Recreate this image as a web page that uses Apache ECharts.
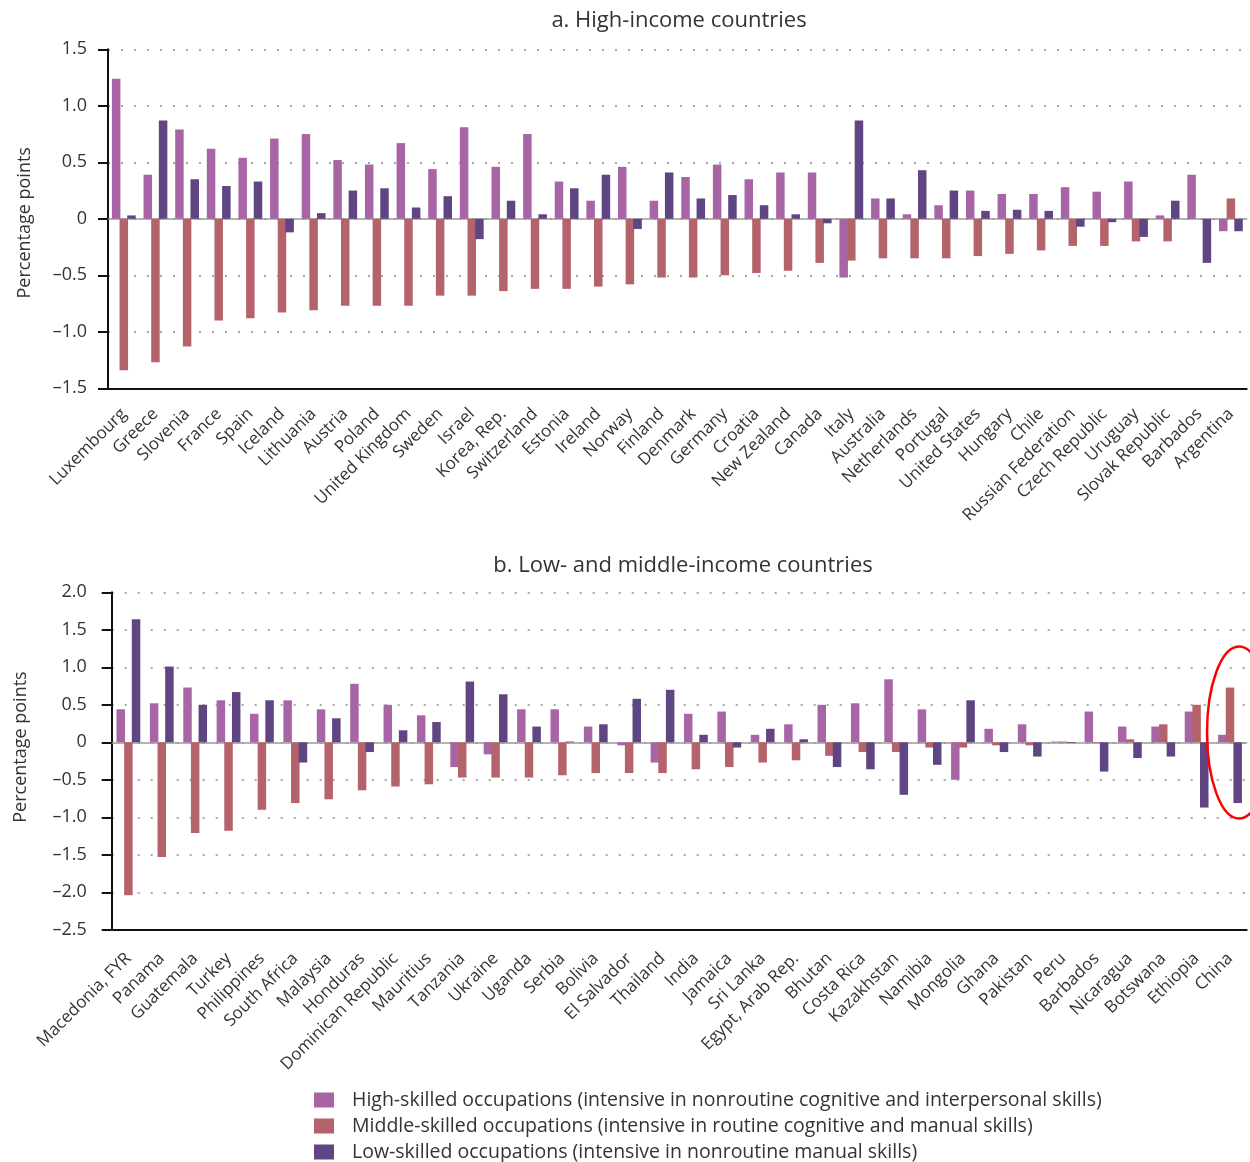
<!DOCTYPE html>
<html>
<head>
<meta charset="utf-8">
<script src="https://cdn.jsdelivr.net/npm/echarts@6/dist/echarts.min.js"></script>
<style>
  html, body { margin: 0; padding: 0; background: #fff; }
  #chart { width: 1250px; height: 1162px; }
</style>
</head>
<body>
<div id="chart"></div>
<script>
// Annual change in employment shares, percentage points

const highIncomeCountries = ["Luxembourg", "Greece", "Slovenia", "France", "Spain", "Iceland", "Lithuania", "Austria", "Poland", "United Kingdom", "Sweden", "Israel", "Korea, Rep.", "Switzerland", "Estonia", "Ireland", "Norway", "Finland", "Denmark", "Germany", "Croatia", "New Zealand", "Canada", "Italy", "Australia", "Netherlands", "Portugal", "United States", "Hungary", "Chile", "Russian Federation", "Czech Republic", "Uruguay", "Slovak Republic", "Barbados", "Argentina"];
const highIncomeHighSkilled = [1.24, 0.39, 0.79, 0.62, 0.54, 0.71, 0.75, 0.52, 0.48, 0.67, 0.44, 0.81, 0.46, 0.75, 0.33, 0.16, 0.46, 0.16, 0.37, 0.48, 0.35, 0.41, 0.41, -0.52, 0.18, 0.04, 0.12, 0.25, 0.22, 0.22, 0.28, 0.24, 0.33, 0.03, 0.39, -0.11];
const highIncomeMiddleSkilled = [-1.34, -1.27, -1.13, -0.90, -0.88, -0.83, -0.81, -0.77, -0.77, -0.77, -0.68, -0.68, -0.64, -0.62, -0.62, -0.60, -0.58, -0.52, -0.52, -0.50, -0.48, -0.46, -0.39, -0.37, -0.35, -0.35, -0.35, -0.33, -0.31, -0.28, -0.24, -0.24, -0.20, -0.20, 0, 0.18];
const highIncomeLowSkilled = [0.03, 0.87, 0.35, 0.29, 0.33, -0.12, 0.05, 0.25, 0.27, 0.10, 0.20, -0.18, 0.16, 0.04, 0.27, 0.39, -0.09, 0.41, 0.18, 0.21, 0.12, 0.04, -0.04, 0.87, 0.18, 0.43, 0.25, 0.07, 0.08, 0.07, -0.07, -0.03, -0.16, 0.16, -0.39, -0.11];

const lowMiddleCountries = ["Macedonia, FYR", "Panama", "Guatemala", "Turkey", "Philippines", "South Africa", "Malaysia", "Honduras", "Dominican Republic", "Mauritius", "Tanzania", "Ukraine", "Uganda", "Serbia", "Bolivia", "El Salvador", "Thailand", "India", "Jamaica", "Sri Lanka", "Egypt, Arab Rep.", "Bhutan", "Costa Rica", "Kazakhstan", "Namibia", "Mongolia", "Ghana", "Pakistan", "Peru", "Barbados", "Nicaragua", "Botswana", "Ethiopia", "China"];
const lowMiddleHighSkilled = [0.44, 0.52, 0.73, 0.56, 0.38, 0.56, 0.44, 0.78, 0.50, 0.36, -0.33, -0.16, 0.44, 0.44, 0.21, -0.04, -0.27, 0.38, 0.41, 0.10, 0.24, 0.50, 0.52, 0.84, 0.44, -0.50, 0.18, 0.24, 0.01, 0.41, 0.21, 0.21, 0.41, 0.10];
const lowMiddleMiddleSkilled = [-2.04, -1.53, -1.21, -1.18, -0.90, -0.81, -0.76, -0.64, -0.59, -0.56, -0.47, -0.47, -0.47, -0.44, -0.41, -0.41, -0.41, -0.36, -0.33, -0.27, -0.24, -0.18, -0.13, -0.13, -0.07, -0.07, -0.04, -0.04, 0.01, -0.01, 0.04, 0.24, 0.50, 0.73];
const lowMiddleLowSkilled = [1.64, 1.01, 0.50, 0.67, 0.56, -0.27, 0.32, -0.13, 0.16, 0.27, 0.81, 0.64, 0.21, 0.01, 0.24, 0.58, 0.70, 0.10, -0.07, 0.18, 0.04, -0.33, -0.36, -0.70, -0.30, 0.56, -0.13, -0.19, -0.01, -0.39, -0.21, -0.19, -0.87, -0.81];

const seriesNames = [
  "High-skilled occupations (intensive in nonroutine cognitive and interpersonal skills)",
  "Middle-skilled occupations (intensive in routine cognitive and manual skills)",
  "Low-skilled occupations (intensive in nonroutine manual skills)"
];
const seriesColors = ["#a865a6", "#b5636a", "#5f4581"];
const panelTitles = ["a. High-income countries", "b. Low- and middle-income countries"];
const yAxisTitle = "Percentage points";

const FONT = "'Open Sans', 'Noto Sans', sans-serif";
const INK = "#111";
const TEXT = "#333";

function tickFormatter(v) {
  if (Math.abs(v) < 1e-9) return "0";
  return (v < 0 ? "\u2013" : "") + Math.abs(v).toFixed(1);
}

function labelAxis(gridIndex, data, margin) {
  return {
    gridIndex, type: "category", data, position: "bottom",
    axisLine: { onZero: false, lineStyle: { color: INK, width: 2 } },
    axisTick: { length: 9, lineStyle: { color: INK, width: 2 } },
    axisLabel: { interval: 0, rotate: 45, margin, fontSize: 17, fontFamily: FONT, color: TEXT },
    splitLine: { show: false }
  };
}
function zeroAxis(gridIndex, data) {
  return {
    gridIndex, type: "category", data, position: "bottom",
    axisLine: { onZero: true, lineStyle: { color: "#9a9a9a", width: 1.5 } },
    axisTick: { inside: true, length: 9, lineStyle: { color: INK, width: 2 } },
    axisLabel: { show: false },
    splitLine: { show: false }
  };
}
function valueAxis(gridIndex, min, max, nameGap, namePadding, labelMargin) {
  return {
    gridIndex, type: "value", min, max, interval: 0.5,
    name: yAxisTitle, nameLocation: "middle", nameGap,
    nameTextStyle: { fontSize: 18, fontFamily: FONT, color: TEXT, padding: namePadding },
    axisLine: { show: true, lineStyle: { color: INK, width: 2 } },
    axisTick: { show: true, length: 10, lineStyle: { color: INK, width: 2 } },
    axisLabel: { margin: labelMargin, fontSize: 18, fontFamily: FONT, color: TEXT, formatter: tickFormatter },
    splitLine: { show: true, lineStyle: { type: [2, 11], color: "#8c8c8c", width: 1.5 } }
  };
}
function barSeries(idx, xAxisIndex, yAxisIndex, values) {
  return {
    type: "bar", name: seriesNames[idx], xAxisIndex, yAxisIndex,
    data: values, barWidth: 8.5, barGap: "-10%",
    itemStyle: { color: seriesColors[idx] },
    emphasis: { disabled: true }
  };
}
function legendRow(idx, top) {
  return {
    data: [seriesNames[idx]], orient: "horizontal", left: 314, top, padding: 0,
    icon: "rect", itemWidth: 20, itemHeight: 15, itemGap: 8,
    textStyle: { fontSize: 19.5, fontFamily: FONT, color: TEXT, padding: [0, 0, 8, 13] },
    selectedMode: false
  };
}

const chart = echarts.init(document.getElementById("chart"));
chart.setOption({
  animation: false,
  backgroundColor: "#fff",
  textStyle: { fontFamily: FONT },
  title: [
    { text: panelTitles[0], left: 674, top: 5, textAlign: "center",
      textStyle: { fontSize: 22, fontWeight: "normal", fontFamily: FONT, color: TEXT } },
    { text: panelTitles[1], left: 678, top: 550, textAlign: "center",
      textStyle: { fontSize: 22, fontWeight: "normal", fontFamily: FONT, color: TEXT } }
  ],
  legend: [legendRow(0, 1090), legendRow(1, 1116), legendRow(2, 1142)],
  grid: [
    { left: 108, right: 3.3, top: 49.3, height: 339 },
    { left: 111.7, right: 3.3, top: 592.3, height: 337.5 }
  ],
  xAxis: [
    labelAxis(0, highIncomeCountries, 23),
    zeroAxis(0, highIncomeCountries),
    labelAxis(1, lowMiddleCountries, 26),
    zeroAxis(1, lowMiddleCountries)
  ],
  yAxis: [
    valueAxis(0, -1.5, 1.5, 74, [0, 8, 0, 0], 21),
    valueAxis(1, -2.5, 2.0, 82, [0, 0, 0, 28], 25)
  ],
  series: [
    barSeries(0, 0, 0, highIncomeHighSkilled),
    barSeries(1, 0, 0, highIncomeMiddleSkilled),
    barSeries(2, 0, 0, highIncomeLowSkilled),
    barSeries(0, 2, 1, lowMiddleHighSkilled),
    barSeries(1, 2, 1, lowMiddleMiddleSkilled),
    barSeries(2, 2, 1, lowMiddleLowSkilled)
  ]
});

// Highlight ring around China in panel b
const chinaIndex = lowMiddleCountries.indexOf("China");
const ringX = chart.convertToPixel({ xAxisIndex: 2 }, chinaIndex);
const ringY = chart.convertToPixel({ yAxisIndex: 1 }, 0.13);
chart.setOption({
  graphic: [{
    type: "ellipse", silent: true, z: 100,
    shape: { cx: ringX + 9, cy: ringY, rx: 32, ry: 86 },
    style: { fill: null, stroke: "#ff0000", lineWidth: 2.5 }
  }]
});
</script>
</body>
</html>
